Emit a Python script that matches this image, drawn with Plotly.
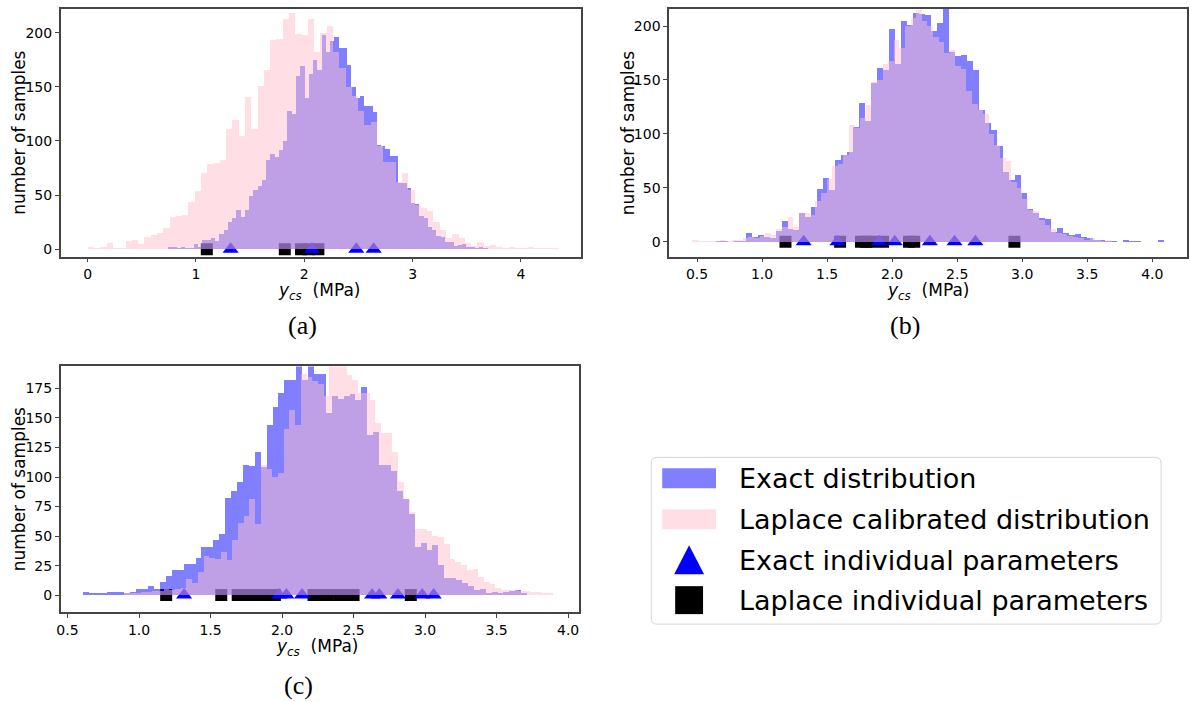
import plotly.graph_objects as go

# ---------------- data (histogram counts per bin) ----------------
# panel (a)
EXACT_A_START, EXACT_A_WIDTH = 0.742, 0.0393
EXACT_A_COUNTS = [2, 2, 1, 2, 1, 1, 5, 2, 9, 9, 10, 8, 14, 18, 25, 29, 36, 30, 36, 49,
                  55, 58, 64, 82, 88, 85, 92, 100, 128, 125, 160, 169, 140, 162, 175, 166, 198, 182, 192, 196,
                  186, 186, 170, 150, 140, 142, 132, 132, 127, 96, 95, 93, 86, 86, 61, 61, 57, 43, 42, 31,
                  29, 21, 18, 12, 11, 7, 7, 3, 4, 5, 2, 2, 1, 2, 1]
LAPLACE_A_START, LAPLACE_A_WIDTH = 0.0, 0.058
LAPLACE_A_COUNTS = [2, 1, 2, 6, 1, 1, 8, 9, 5, 11, 13, 15, 20, 30, 31, 32, 44, 54, 70, 79,
                    80, 82, 111, 119, 105, 141, 111, 151, 166, 193, 194, 213, 218, 199, 198, 213, 182, 200, 206, 182,
                    167, 150, 142, 128, 115, 118, 95, 81, 81, 62, 70, 55, 41, 38, 35, 25, 18, 10, 14, 10,
                    6, 3, 7, 3, 4, 2, 1, 2, 1, 1, 2, 1, 1, 1, 1]
EXACT_A_PARAMS = [1.32, 2.07, 2.48, 2.64]
LAPLACE_A_PARAMS = [1.10, 1.82, 1.97, 2.04, 2.13]

# panel (b)
EXACT_B_START, EXACT_B_WIDTH = 0.645, 0.046
EXACT_B_COUNTS = [1, 1, 0, 1, 1, 8, 4, 6, 4, 3, 10, 19, 12, 11, 27, 23, 32, 49, 59, 48,
                  76, 80, 83, 106, 129, 112, 147, 161, 159, 197, 165, 205, 201, 212, 211, 210, 195, 203, 218, 176,
                  172, 173, 168, 159, 122, 110, 104, 89, 65, 57, 62, 45, 30, 27, 22, 21, 9, 13, 8, 6,
                  7, 4, 3, 2, 2, 1, 1, 0, 2, 1, 1, 0, 0, 0, 2]
LAPLACE_B_START, LAPLACE_B_WIDTH = 0.466, 0.043
LAPLACE_B_COUNTS = [2, 1, 1, 1, 1, 2, 1, 2, 2, 3, 4, 3, 5, 8, 6, 12, 14, 23, 14, 27,
                    27, 25, 38, 45, 58, 70, 72, 80, 108, 105, 115, 127, 148, 150, 165, 168, 187, 180, 200, 207,
                    215, 205, 200, 190, 185, 175, 178, 163, 160, 140, 128, 122, 118, 100, 90, 78, 75, 55, 50, 40,
                    29, 28, 20, 15, 12, 8, 7, 5, 4, 3, 2, 3, 2, 1, 2]
EXACT_B_PARAMS = [1.32, 1.58, 1.90, 2.02, 2.29, 2.48, 2.64]
LAPLACE_B_PARAMS = [1.18, 1.60, 1.76, 1.80, 1.84, 1.93, 2.13, 2.17, 2.94]

# panel (c)
EXACT_C_START, EXACT_C_WIDTH = 0.607, 0.0414
EXACT_C_COUNTS = [2, 1, 1, 1, 2, 2, 2, 1, 2, 5, 5, 7, 5, 11, 16, 21, 21, 26, 26, 31,
                  40, 40, 46, 51, 82, 88, 95, 110, 109, 121, 108, 144, 159, 171, 182, 182, 194, 182, 194, 187,
                  187, 154, 168, 166, 168, 170, 165, 176, 135, 138, 110, 110, 105, 88, 81, 68, 40, 44, 38, 42,
                  25, 14, 14, 12, 10, 7, 4, 5, 1, 2, 1, 2, 3, 4, 1]
LAPLACE_C_START, LAPLACE_C_WIDTH = 0.89, 0.040
LAPLACE_C_COUNTS = [1, 1, 1, 2, 2, 3, 3, 5, 4, 5, 6, 13, 10, 19, 33, 31, 30, 36, 29, 46,
                    61, 67, 81, 60, 110, 106, 100, 103, 140, 156, 144, 187, 184, 181, 178, 168, 195, 196, 195, 186,
                    182, 171, 171, 165, 145, 137, 137, 121, 95, 81, 70, 56, 56, 54, 50, 49, 43, 30, 28, 25,
                    21, 22, 15, 11, 9, 6, 4, 4, 4, 3, 3, 2, 2, 1, 1]
EXACT_C_PARAMS = [1.315, 1.98, 2.03, 2.14, 2.63, 2.68, 2.81, 2.98, 3.06]
LAPLACE_C_PARAMS = [1.19, 1.575, 1.69, 1.74, 1.78, 1.82, 1.86, 1.91, 1.95,
                    2.22, 2.27, 2.32, 2.40, 2.45, 2.50, 2.90]

LEGEND_LABELS = ["Exact distribution", "Laplace calibrated distribution",
                 "Exact individual parameters", "Laplace individual parameters"]
PANEL_LABELS = ["(a)", "(b)", "(c)"]
X_TITLE = "<i>y</i><sub><i>cs</i></sub>&nbsp;&nbsp;(MPa)"
Y_TITLE = "number of samples"

# ---------------- styling ----------------
W, H = 1190, 702
BLUE_FILL = "rgba(0,0,255,0.5)"
PINK_FILL = "rgba(255,192,203,0.5)"
FONT = "DejaVu Sans"
SPINE = "#444444"


def px_x(p):
    return p / W


def px_y(p):
    return 1 - p / H


panels = [
    dict(dom_x=(57, 579), dom_y=(9, 257), xr=(-0.248, 4.55), yr=(-6.8, 221.9),
         xt=[0, 1, 2, 3, 4], xtt=["0", "1", "2", "3", "4"], yt=[0, 50, 100, 150, 200],
         ex=(EXACT_A_START, EXACT_A_WIDTH, EXACT_A_COUNTS),
         la=(LAPLACE_A_START, LAPLACE_A_WIDTH, LAPLACE_A_COUNTS),
         ep=EXACT_A_PARAMS, lp=LAPLACE_A_PARAMS,
         ytitle=(15, 133), xtitle=(316, 278)),
    dict(dom_x=(668, 1188), dom_y=(9, 257), xr=(0.286, 4.267), yr=(-13.9, 215.8),
         xt=[0.5, 1.0, 1.5, 2.0, 2.5, 3.0, 3.5, 4.0],
         xtt=["0.5", "1.0", "1.5", "2.0", "2.5", "3.0", "3.5", "4.0"], yt=[0, 50, 100, 150, 200],
         ex=(EXACT_B_START, EXACT_B_WIDTH, EXACT_B_COUNTS),
         la=(LAPLACE_B_START, LAPLACE_B_WIDTH, LAPLACE_B_COUNTS),
         ep=EXACT_B_PARAMS, lp=LAPLACE_B_PARAMS,
         ytitle=(626, 133), xtitle=(928, 278)),
    dict(dom_x=(57, 577), dom_y=(367, 613), xr=(0.453, 4.073), yr=(-14.4, 193.6),
         xt=[0.5, 1.0, 1.5, 2.0, 2.5, 3.0, 3.5, 4.0],
         xtt=["0.5", "1.0", "1.5", "2.0", "2.5", "3.0", "3.5", "4.0"],
         yt=[0, 25, 50, 75, 100, 125, 150, 175],
         ex=(EXACT_C_START, EXACT_C_WIDTH, EXACT_C_COUNTS),
         la=(LAPLACE_C_START, LAPLACE_C_WIDTH, LAPLACE_C_COUNTS),
         ep=EXACT_C_PARAMS, lp=LAPLACE_C_PARAMS,
         ytitle=(15, 490), xtitle=(314, 635)),
]

fig = go.Figure()
layout = dict(width=W, height=H, margin=dict(l=0, r=0, t=0, b=0),
              paper_bgcolor="white", plot_bgcolor="white", showlegend=False,
              barmode="overlay", bargap=0, font=dict(family=FONT, color="black"))

for idx, p in enumerate(panels):
    base = idx + 1          # axes holding the markers (drawn first)
    over = idx + 4          # overlay axes holding the bars (drawn on top)
    bx, by = f"x{base}", f"y{base}"
    ox, oy = f"x{over}", f"y{over}"
    dx = [px_x(p["dom_x"][0]), px_x(p["dom_x"][1])]
    dy = [px_y(p["dom_y"][1]), px_y(p["dom_y"][0])]
    tick_font = dict(family=FONT, size=14, color="black")
    layout[f"xaxis{base}"] = dict(domain=dx, range=list(p["xr"]), anchor=by,
                                  tickvals=p["xt"], ticktext=p["xtt"], tickfont=tick_font,
                                  ticks="outside", ticklen=4, tickwidth=1, tickcolor=SPINE,
                                  showline=True, linecolor=SPINE, linewidth=1.6, mirror=True,
                                  showgrid=False, zeroline=False, fixedrange=True)
    layout[f"yaxis{base}"] = dict(domain=dy, range=list(p["yr"]), anchor=bx,
                                  tickvals=p["yt"], tickfont=tick_font,
                                  ticks="outside", ticklen=4, tickwidth=1, tickcolor=SPINE,
                                  showline=True, linecolor=SPINE, linewidth=1.6, mirror=True,
                                  showgrid=False, zeroline=False, fixedrange=True)
    layout[f"xaxis{over}"] = dict(domain=dx, range=list(p["xr"]), overlaying=bx, anchor=oy,
                                  visible=False, fixedrange=True)
    layout[f"yaxis{over}"] = dict(domain=dy, range=list(p["yr"]), overlaying=by, anchor=ox,
                                  visible=False, fixedrange=True)

    # markers at y = 0 (underneath the histogram bars)
    fig.add_trace(go.Scatter(x=p["lp"], y=[0] * len(p["lp"]), mode="markers",
                             marker=dict(symbol="square", size=12, color="black"),
                             xaxis=bx, yaxis=by, name=LEGEND_LABELS[3], hoverinfo="skip"))
    fig.add_trace(go.Scatter(x=p["ep"], y=[0] * len(p["ep"]), mode="markers",
                             marker=dict(symbol="triangle-up", size=14, color="blue"),
                             xaxis=bx, yaxis=by, name=LEGEND_LABELS[2], hoverinfo="skip"))

    for (start, width, counts), color, label in [(p["ex"], BLUE_FILL, LEGEND_LABELS[0]),
                                                 (p["la"], PINK_FILL, LEGEND_LABELS[1])]:
        centers = [start + width * (i + 0.5) for i in range(len(counts))]
        fig.add_trace(go.Bar(x=centers, y=counts, width=[width] * len(counts),
                             marker=dict(color=color, line=dict(width=0)),
                             xaxis=ox, yaxis=oy, name=label, hoverinfo="skip"))

    # axis titles
    fig.add_annotation(text=Y_TITLE, x=px_x(p["ytitle"][0]), y=px_y(p["ytitle"][1]),
                       xref="paper", yref="paper", showarrow=False, textangle=-90,
                       xanchor="center", yanchor="middle",
                       font=dict(family=FONT, size=17, color="black"))
    fig.add_annotation(text=X_TITLE, x=px_x(p["xtitle"][0]), y=px_y(p["xtitle"][1]),
                       xref="paper", yref="paper", showarrow=False,
                       xanchor="center", yanchor="top",
                       font=dict(family=FONT, size=17, color="black"))

fig.update_layout(**layout)

# panel labels
for lab, (cx, cy) in zip(PANEL_LABELS, [(300, 326), (905, 326), (296, 686)]):
    fig.add_annotation(text=lab, x=px_x(cx), y=px_y(cy), xref="paper", yref="paper",
                       showarrow=False, xanchor="center", yanchor="middle",
                       font=dict(family="Liberation Serif", size=26, color="black"))

# ---------------- hand-drawn legend (lower right) ----------------
L, R, T, B, RAD = 650, 1162, 458, 625, 6


def rounded_box(l, r, t, b, rad):
    xs = lambda v: px_x(v)
    ys = lambda v: px_y(v)
    return (f"M {xs(l + rad)},{ys(t)} L {xs(r - rad)},{ys(t)} Q {xs(r)},{ys(t)} {xs(r)},{ys(t + rad)} "
            f"L {xs(r)},{ys(b - rad)} Q {xs(r)},{ys(b)} {xs(r - rad)},{ys(b)} "
            f"L {xs(l + rad)},{ys(b)} Q {xs(l)},{ys(b)} {xs(l)},{ys(b - rad)} "
            f"L {xs(l)},{ys(t + rad)} Q {xs(l)},{ys(t)} {xs(l + rad)},{ys(t)} Z")


shapes = [dict(type="path", path=rounded_box(L, R, T, B, RAD), xref="paper", yref="paper",
               line=dict(color="#d6d6d6", width=1), fillcolor="rgba(255,255,255,0.8)")]
rows = [479, 520, 561, 601]
gx0, gx1, gcx = 661, 715, 688
shapes.append(dict(type="rect", xref="paper", yref="paper", x0=px_x(gx0), x1=px_x(gx1),
                   y0=px_y(rows[0] + 10), y1=px_y(rows[0] - 10), fillcolor=BLUE_FILL, line=dict(width=0)))
shapes.append(dict(type="rect", xref="paper", yref="paper", x0=px_x(gx0), x1=px_x(gx1),
                   y0=px_y(rows[1] + 10), y1=px_y(rows[1] - 10), fillcolor=PINK_FILL, line=dict(width=0)))
ty = rows[2]
shapes.append(dict(type="path", xref="paper", yref="paper",
                   path=f"M {px_x(gcx - 15)},{px_y(ty + 14)} L {px_x(gcx + 15)},{px_y(ty + 14)} "
                        f"L {px_x(gcx)},{px_y(ty - 15)} Z",
                   fillcolor="blue", line=dict(width=0)))
sy = rows[3]
shapes.append(dict(type="rect", xref="paper", yref="paper", x0=px_x(gcx - 14), x1=px_x(gcx + 14),
                   y0=px_y(sy + 14), y1=px_y(sy - 14), fillcolor="black", line=dict(width=0)))
for s in shapes:
    fig.add_shape(**s)

for lab, ry in zip(LEGEND_LABELS, rows):
    fig.add_annotation(text=lab, x=px_x(736), y=px_y(ry), xref="paper", yref="paper",
                       showarrow=False, xanchor="left", yanchor="middle",
                       font=dict(family=FONT, size=27, color="black"))

fig.write_html("out.html")
